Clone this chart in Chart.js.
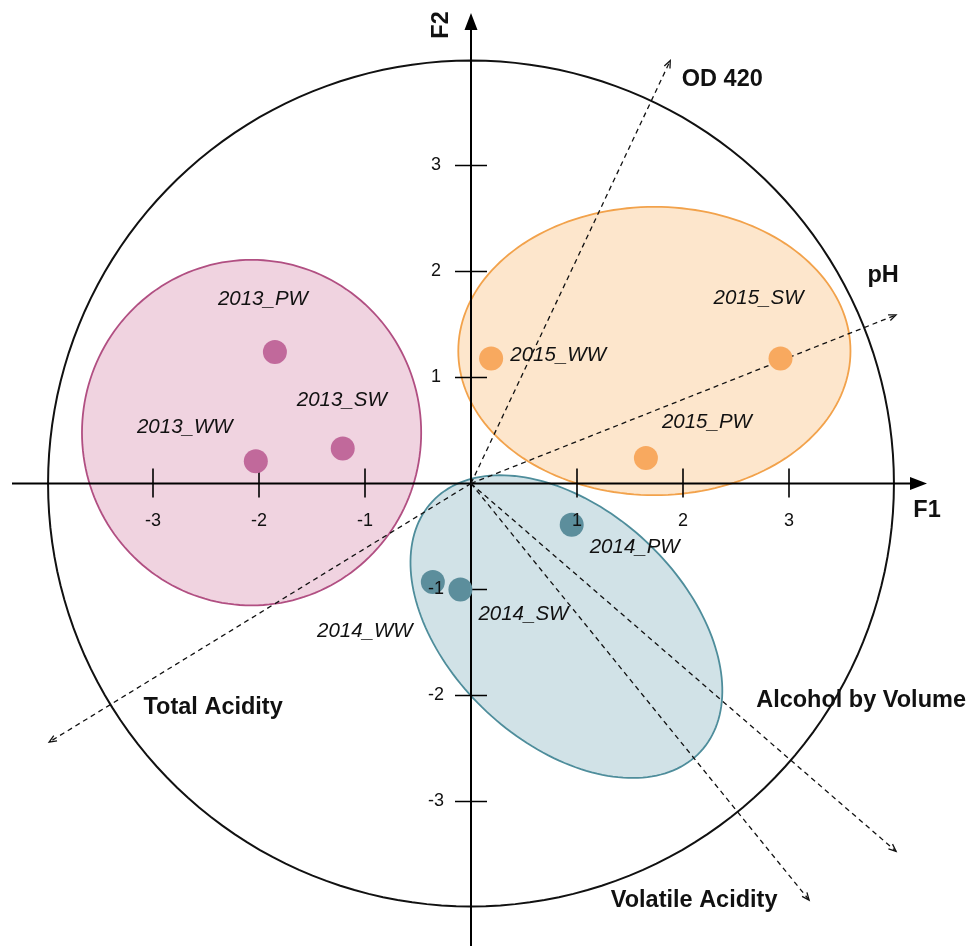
<!DOCTYPE html>
<html>
<head>
<meta charset="utf-8">
<script src="https://cdn.jsdelivr.net/npm/chart.js@4.4.1/dist/chart.umd.min.js"></script>
<style>
  html, body { margin: 0; padding: 0; background: #fff; }
  canvas { display: block; background: #fff; }
</style>
</head>
<body>
<canvas id="myChart" width="969" height="946"></canvas>
<script>
// sample scores on F1 / F2
const sampleNames = ['2013_PW', '2013_SW', '2013_WW', '2014_PW', '2014_SW', '2014_WW', '2015_PW', '2015_SW', '2015_WW'];
const sampleYears = [2013, 2013, 2013, 2014, 2014, 2014, 2015, 2015, 2015];
const sampleF1 = [-1.85, -1.21, -2.03, 0.95, -0.10, -0.36, 1.65, 2.92, 0.19];
const sampleF2 = [1.24, 0.33, 0.21, -0.39, -1.00, -0.93, 0.24, 1.18, 1.18];

// variable loadings (arrow tips)
const variableNames = ['OD 420', 'pH', 'Total Acidity', 'Alcohol by Volume', 'Volatile Acidity'];
const variableF1 = [1.88, 4.01, -3.98, 4.01, 3.19];
const variableF2 = [3.99, 1.59, -2.44, -3.47, -3.93];

// year group ellipses (in F1/F2 units), drawn in this order
const ellipseYears = [2013, 2015, 2014];
const ellipseF1 = [-2.07, 1.73, 0.90];
const ellipseF2 = [0.48, 1.25, -1.35];
const ellipseRadiusF1 = [1.60, 1.85, 1.73];
const ellipseRadiusF2 = [1.63, 1.36, 1.10];
const ellipseAngle = [0, 0, -43];

// axes
const f1Ticks = [-3, -2, -1, 1, 2, 3];
const f2Ticks = [3, 2, 1, -1, -2, -3];
const circleRadius = 3.99;

// ---- styling / layout ----
const yearColors = {
  2013: { point: '#c1699b', fill: '#f0d3e0', stroke: '#b14f82' },
  2014: { point: '#5c8e9c', fill: '#d1e2e7', stroke: '#4e8d9b' },
  2015: { point: '#f8a95f', fill: '#fde6cc', stroke: '#f2a24b' },
};
const sampleLabelOffsets = [[-12, -53], [-1, -48], [-71, -34], [63, 22], [63, 25], [-68, 49], [61, -36], [-22, -60], [67, -3]];
const variableLabelOffsets = [[52, 19], [-13, -39], [164, -35], [-35, -151], [-115, 0]];
const FONT = '"Liberation Sans", Arial, Helvetica, sans-serif';

const pcaDecor = {
  id: 'pcaDecor',
  beforeDatasetsDraw(chart) {
    const ctx = chart.ctx;
    const x = chart.scales.x, y = chart.scales.y;
    const x0 = x.getPixelForValue(0), y0 = y.getPixelForValue(0);

    function ellipsePath(cx, cy, a, b, angDeg) {
      const phi = angDeg * Math.PI / 180;
      ctx.beginPath();
      for (let i = 0; i <= 180; i++) {
        const t = i / 180 * Math.PI * 2;
        const ex = a * Math.cos(t), ey = b * Math.sin(t);
        const dx = ex * Math.cos(phi) - ey * Math.sin(phi);
        const dy = ex * Math.sin(phi) + ey * Math.cos(phi);
        const px = x.getPixelForValue(cx + dx), py = y.getPixelForValue(cy + dy);
        if (i === 0) ctx.moveTo(px, py); else ctx.lineTo(px, py);
      }
      ctx.closePath();
    }

    ctx.save();
    // group ellipses
    ellipseYears.forEach((yr, i) => {
      ellipsePath(ellipseF1[i], ellipseF2[i], ellipseRadiusF1[i], ellipseRadiusF2[i], ellipseAngle[i]);
      ctx.fillStyle = yearColors[yr].fill;
      ctx.fill();
      ctx.lineWidth = 1.8;
      ctx.strokeStyle = yearColors[yr].stroke;
      ctx.stroke();
    });

    // correlation circle
    ellipsePath(0, 0, circleRadius, circleRadius, 0);
    ctx.lineWidth = 2;
    ctx.strokeStyle = '#111';
    ctx.stroke();

    // axes
    ctx.strokeStyle = '#000';
    ctx.fillStyle = '#000';
    ctx.lineWidth = 2;
    const xLeft = 12, xTip = 927, yTop = 13, yBottom = chart.height;
    ctx.beginPath();
    ctx.moveTo(xLeft, y0); ctx.lineTo(xTip - 12, y0);
    ctx.moveTo(x0, yBottom); ctx.lineTo(x0, yTop + 12);
    ctx.stroke();
    ctx.beginPath();
    ctx.moveTo(xTip, y0); ctx.lineTo(xTip - 17, y0 - 6.5); ctx.lineTo(xTip - 17, y0 + 6.5); ctx.closePath();
    ctx.moveTo(x0, yTop); ctx.lineTo(x0 - 6.5, yTop + 17); ctx.lineTo(x0 + 6.5, yTop + 17); ctx.closePath();
    ctx.fill();

    // ticks
    ctx.lineWidth = 1.6;
    ctx.beginPath();
    f1Ticks.forEach(v => {
      const px = x.getPixelForValue(v);
      ctx.moveTo(px, y0 - 15); ctx.lineTo(px, y0 + 14);
    });
    f2Ticks.forEach(v => {
      const py = y.getPixelForValue(v);
      ctx.moveTo(x0 - 16, py); ctx.lineTo(x0 + 16, py);
    });
    ctx.stroke();

    // variable vectors
    ctx.lineWidth = 1.3;
    ctx.strokeStyle = '#111';
    variableNames.forEach((name, i) => {
      const tx = x.getPixelForValue(variableF1[i]), ty = y.getPixelForValue(variableF2[i]);
      ctx.setLineDash([5, 4]);
      ctx.beginPath();
      ctx.moveTo(x0, y0); ctx.lineTo(tx, ty);
      ctx.stroke();
      ctx.setLineDash([]);
      const ang = Math.atan2(ty - y0, tx - x0);
      ctx.beginPath();
      ctx.moveTo(tx - 8 * Math.cos(ang - 0.4), ty - 8 * Math.sin(ang - 0.4));
      ctx.lineTo(tx, ty);
      ctx.lineTo(tx - 8 * Math.cos(ang + 0.4), ty - 8 * Math.sin(ang + 0.4));
      ctx.stroke();
    });
    ctx.restore();
  },
  afterDatasetsDraw(chart) {
    const ctx = chart.ctx;
    const x = chart.scales.x, y = chart.scales.y;
    const x0 = x.getPixelForValue(0), y0 = y.getPixelForValue(0);
    ctx.save();
    ctx.fillStyle = '#111';
    ctx.textAlign = 'center';
    ctx.textBaseline = 'middle';

    // tick labels
    ctx.font = '18px ' + FONT;
    f1Ticks.forEach(v => ctx.fillText(String(v), x.getPixelForValue(v), y0 + 38));
    f2Ticks.forEach(v => ctx.fillText(String(v), x0 - 35, y.getPixelForValue(v)));

    // sample labels
    ctx.font = 'italic 20.5px ' + FONT;
    sampleNames.forEach((name, i) => {
      const px = x.getPixelForValue(sampleF1[i]) + sampleLabelOffsets[i][0];
      const py = y.getPixelForValue(sampleF2[i]) + sampleLabelOffsets[i][1];
      ctx.fillText(name, px, py);
    });

    // variable labels
    ctx.font = 'bold 23.5px ' + FONT;
    variableNames.forEach((name, i) => {
      const px = x.getPixelForValue(variableF1[i]) + variableLabelOffsets[i][0];
      const py = y.getPixelForValue(variableF2[i]) + variableLabelOffsets[i][1];
      ctx.fillText(name, px, py);
    });

    // axis titles
    ctx.fillText('F1', 927, 511);
    ctx.save();
    ctx.translate(442, 25);
    ctx.rotate(-Math.PI / 2);
    ctx.fillText('F2', 0, 0);
    ctx.restore();
    ctx.restore();
  }
};

window.onload = function() {
  const ctx = document.getElementById('myChart').getContext('2d');
  const years = [2013, 2014, 2015];
  const datasets = years.map(yr => {
    const pts = [];
    sampleNames.forEach((n, i) => {
      if (sampleYears[i] === yr) pts.push({ x: sampleF1[i], y: sampleF2[i] });
    });
    return {
      label: String(yr),
      data: pts,
      backgroundColor: yearColors[yr].point,
      borderWidth: 0,
      pointRadius: 12,
      pointHoverRadius: 12,
    };
  });

  new Chart(ctx, {
    type: 'scatter',
    data: { datasets: datasets },
    options: {
      responsive: false,
      animation: false,
      layout: { padding: 0, autoPadding: false },
      plugins: {
        legend: { display: false },
        tooltip: { enabled: false },
      },
      scales: {
        x: { type: 'linear', min: -471 / 106, max: (969 - 471) / 106, display: false },
        y: { type: 'linear', min: -(946 - 483.5) / 106, max: 483.5 / 106, display: false },
      },
    },
    plugins: [pcaDecor],
  });
};
</script>
</body>
</html>
